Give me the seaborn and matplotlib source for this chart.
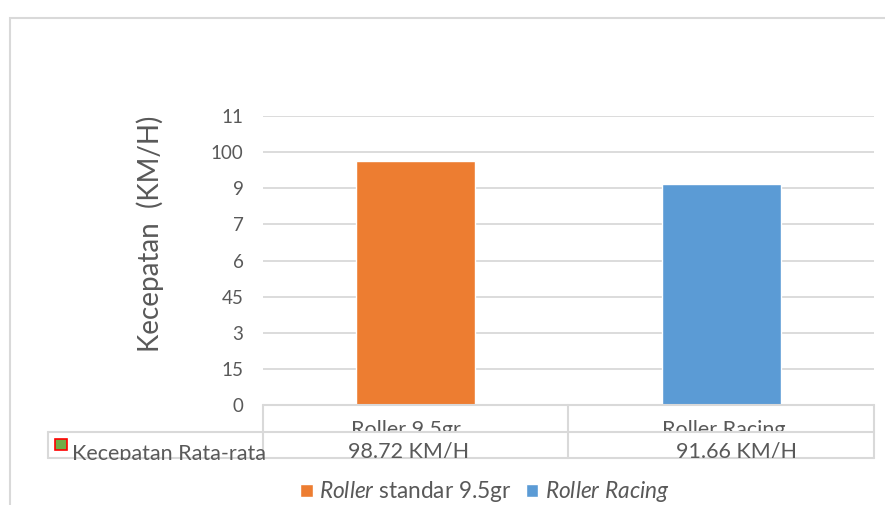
import matplotlib
matplotlib.use("Agg")
import matplotlib.pyplot as plt
import seaborn as sns
import pandas as pd
from matplotlib.patches import Rectangle
from matplotlib.lines import Line2D
from matplotlib.transforms import Bbox, TransformedBbox

# data
categories = ["Roller 9.5gr", "Roller Racing"]
speeds = [101.3, 91.7]
table_values = ["98.72 KM/H", "91.66 KM/H"]
legend_labels = [r"$\it{Roller}$ standar 9.5gr", r"$\it{Roller\ Racing}$"]
ytick_values = [0, 15, 30, 45, 60, 75, 90, 105, 120]
ytick_labels = ["0", "15", "3", "45", "6", "7", "9", "100", "11"]
colors = ["#ED7D31", "#5B9BD5"]

sns.set_style("white")
plt.rcParams["font.family"] = ["Lato", "DejaVu Sans"]
plt.rcParams["mathtext.fontset"] = "custom"
plt.rcParams["mathtext.rm"] = "Lato"
plt.rcParams["mathtext.it"] = "Lato:italic"

W, H = 885, 505
txt = "#595959"
grid = "#D9D9D9"

fig = plt.figure(figsize=(W / 100, H / 100), dpi=100)

def fx(px):
    return px / W

def fy(py):
    return 1 - py / H

ax = fig.add_axes([fx(263), fy(405), fx(874) - fx(263), fy(116) - fy(405)])

df = pd.DataFrame({"cat": categories, "speed": speeds})
sns.barplot(data=df, x="cat", y="speed", hue="cat", palette=colors, saturation=1,
            width=0.39, legend=False, ax=ax, zorder=3)

ax.set_ylim(0, 120)
ax.set_yticks(ytick_values)
ax.set_yticklabels(ytick_labels, color=txt, fontsize=13.5)
ax.tick_params(axis="y", length=0, pad=14)
ax.set_xticks([])
ax.set_xlabel("")
ax.set_ylabel("Kecepatan  (KM/H)", fontsize=20, color=txt)
ax.yaxis.set_label_coords(-0.162, 0.592)
ax.yaxis.grid(True, color=grid, linewidth=1.3)
ax.set_axisbelow(True)
for s in ax.spines.values():
    s.set_visible(False)

# outer chart border
fig.add_artist(Rectangle((fx(10), fy(510)), fx(900) - fx(10), fy(18) - fy(510),
                         transform=fig.transFigure, fill=False, edgecolor=grid, linewidth=1.5))

# data table lines
def hline(y, x0, x1):
    fig.add_artist(Line2D([fx(x0), fx(x1)], [fy(y), fy(y)], color=grid, linewidth=1.5,
                          transform=fig.transFigure))

def vline(x, y0, y1):
    fig.add_artist(Line2D([fx(x), fx(x)], [fy(y0), fy(y1)], color=grid, linewidth=1.5,
                          transform=fig.transFigure))

hline(405, 263, 874)
hline(432, 48, 874)
hline(458, 48, 874)
vline(48, 432, 458)
for x in [263, 568, 874]:
    vline(x, 405, 458)

def clipped_text(x, y, s, box, ha="center"):
    t = fig.text(fx(x), fy(y), s, ha=ha, va="baseline", fontsize=15.5, color=txt)
    t.set_clip_box(TransformedBbox(Bbox([[fx(box[0]), fy(box[3])], [fx(box[2]), fy(box[1])]]),
                                   fig.transFigure))
    t.set_clip_on(True)

name_centers = [406, 724]
value_centers = [409, 737]
for nx, vx, name, val in zip(name_centers, value_centers, categories, table_values):
    clipped_text(nx, 436, name, (263, 405, 874, 431))
    clipped_text(vx, 457, val, (48, 432, 874, 458))

clipped_text(72, 460, "Kecepatan Rata-rata", (48, 432, 874, 460), ha="left")
fig.add_artist(Rectangle((fx(55), fy(450)), fx(12), 11 / H, transform=fig.transFigure,
                         facecolor="#70AD47", edgecolor="#FF0000", linewidth=1.2))

# legend at the bottom
handles = [Rectangle((0, 0), 1, 1, facecolor=c) for c in colors]
fig.legend(handles, legend_labels, loc="center", bbox_to_anchor=(fx(485), fy(492)),
           ncol=2, frameon=False, fontsize=16.3, labelcolor=txt,
           handlelength=0.55, handleheight=0.55, handletextpad=0.3, columnspacing=0.6)

fig.savefig("out.png", dpi=100)
